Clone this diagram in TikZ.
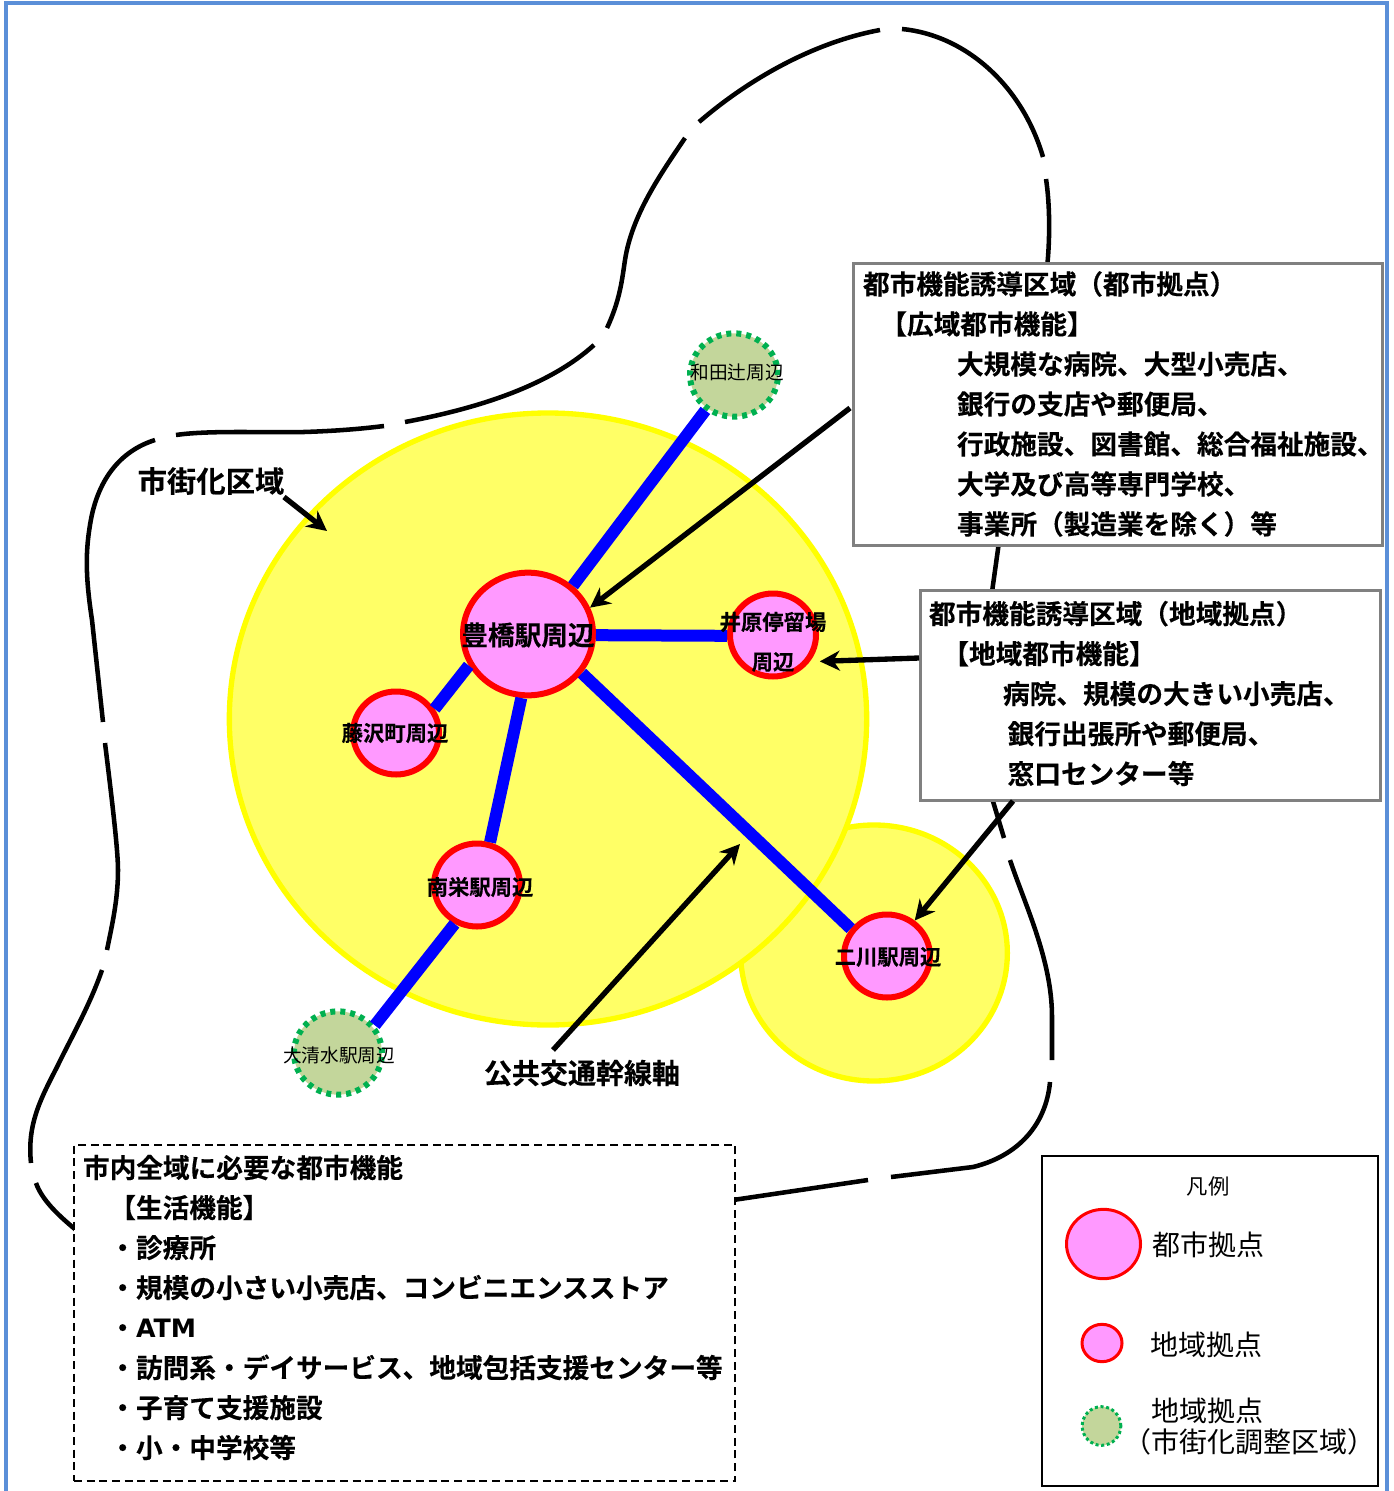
\documentclass[tikz,border=0pt]{standalone}
\usepackage{fontspec}
\setmainfont{Noto Sans CJK JP}[BoldFont=* Bold,BoldFeatures={FakeBold=0.25}]
\newfontfamily\atmfont{DejaVu Sans}
\usetikzlibrary{shapes.geometric,arrows.meta}
\definecolor{framecol}{HTML}{5B8FD8}
\definecolor{arealine}{HTML}{FFFF00}
\definecolor{areafill}{HTML}{FFFF66}
\definecolor{hubfill}{HTML}{FF99FF}
\definecolor{outerfill}{HTML}{C3D69B}
\definecolor{outerline}{HTML}{00B050}
\tikzset{
	boundary/.style={line width=3.4pt},
	areacircle/.style={ellipse,draw=arealine,fill=areafill,line width=4pt,inner sep=0pt},
	hubbig/.style={ellipse,draw=red,fill=hubfill,line width=4.5pt,inner sep=0pt,minimum width=97.5pt,minimum height=92pt},
	hubsmall/.style={ellipse,draw=red,fill=hubfill,line width=4.5pt,inner sep=0pt,minimum width=64.5pt,minimum height=62.25pt},
	hubouter/.style={ellipse,draw=outerline,fill=outerfill,line width=4.5pt,dash pattern=on 3.75pt off 3.75pt,inner sep=0pt,minimum width=66pt,minimum height=62.5pt},
	trunk/.style={blue,line width=9pt},
	pointer/.style={line width=4pt,-{Stealth[length=15pt,width=15pt]}},
	infobox/.style={rectangle,draw=gray,fill=white,line width=2.25pt,anchor=north west,outer sep=0pt,inner xsep=6.75pt,inner ysep=0pt,align=left,font=\fontsize{20}{30}\selectfont\bfseries},
	citylabel/.style={font=\fontsize{16}{20}\selectfont\bfseries,inner sep=0pt},
	outerlabel/.style={font=\fontsize{14}{18}\selectfont,inner sep=0pt},
	keylabel/.style={font=\fontsize{21}{25}\selectfont,inner sep=0pt},
}
\begin{document}
\begin{tikzpicture}[x=0.75pt,y=0.75pt,yscale=-1,xscale=1]
	\useasboundingbox (0,0) rectangle (1394,1491);
	\draw [framecol,line width=3pt] (6,1500) -- (6,3.5) -- (1387,3.5) -- (1387,1500);

	% city boundary, one piece between each gap
	\draw [boundary] (155,440) .. controls (120,451) and (97,480) .. (90,525) .. controls (85,555) and (86,580) .. (92,620) -- (103,722);
	\draw [boundary] (105,743) .. controls (112,800) and (118,850) .. (118,870) .. controls (118,900) and (112,925) .. (107,950);
	\draw [boundary] (102,970) .. controls (90,1005) and (70,1040) .. (57,1067) .. controls (40,1100) and (27,1125) .. (31,1163);
	\draw [boundary] (36,1183) .. controls (42,1200) and (58,1215) .. (76,1230);
	\draw [boundary] (176,435) .. controls (210,430) and (270,433) .. (304,432) .. controls (335,431) and (360,429) .. (384,426);
	\draw [boundary] (405,422) .. controls (480,408) and (550,385) .. (594,345);
	\draw [boundary] (607,328) .. controls (620,300) and (622,280) .. (625,260) .. controls (632,215) and (660,175) .. (685,138);
	\draw [boundary] (699,122) .. controls (750,78) and (815,42) .. (880,30);
	\draw [boundary] (902,29) .. controls (965,35) and (1022,85) .. (1043,157);
	\draw [boundary] (1046,179) .. controls (1050,205) and (1050,240) .. (1047,268);
	\draw [boundary] (999,542) -- (992,592);
	\draw [boundary] (992,798) -- (1004,838);
	\draw [boundary] (1010,860) .. controls (1025,905) and (1052,960) .. (1052,1017) -- (1052,1060);
	\draw [boundary] (1050,1082) .. controls (1046,1125) and (1018,1156) .. (973,1167) -- (891,1177);
	\draw [boundary] (868,1180) -- (733,1200);

	% urbanised areas
	\node [areacircle,minimum width=200pt,minimum height=192pt] (areaeast) at (874,953) {};
	\node [areacircle,minimum width=478pt,minimum height=459pt] (areamain) at (548,719) {};

	% hubs
	\node [hubbig] (toyohashi) at (528,634) {};
	\node [hubsmall] (ihara) at (773,635) {};
	\node [hubsmall] (fujisawa) at (396,733) {};
	\node [hubsmall] (nansaka) at (477,885) {};
	\node [hubsmall] (futagawa) at (887,956) {};
	\node [hubouter] (wadatsuji) at (734,375) {};
	\node [hubouter] (oshimizu) at (338,1053) {};

	\draw [trunk] (toyohashi.47) -- (wadatsuji.231);
	\draw [trunk] (toyohashi.-1.5) -- (ihara.181);
	\draw [trunk] (toyohashi.208) -- (fujisawa.32);
	\draw [trunk] (toyohashi.264) -- (nansaka.73);
	\draw [trunk] (nansaka.240) -- (oshimizu.37);
	\draw [trunk] (toyohashi.-36) -- (futagawa.143);

	\node [citylabel,font=\fontsize{20}{24}\selectfont\bfseries] (toyohashiL) at (528,635) {豊橋駅周辺};
	\node [citylabel] (iharaL) at (773,622) {井原停留場};
	\node [citylabel] (iharaLb) at (773,662) {周辺};
	\node [citylabel] (fujisawaL) at (395,733) {藤沢町周辺};
	\node [citylabel] (nansakaL) at (480,887) {南栄駅周辺};
	\node [citylabel] (futagawaL) at (888,957) {二川駅周辺};
	\node [outerlabel] (wadatsujiL) at (737,372) {和田辻周辺};
	\node [outerlabel] (oshimizuL) at (339,1055) {大清水駅周辺};

	% text boxes
	\node [infobox,inner xsep=7.5pt,text width=381.75pt,minimum height=211.5pt] (boxurban) at (853,263) {都市機能誘導区域（都市拠点）\\
		\hspace*{13pt}【広域都市機能】\\
		\hspace*{70.5pt}大規模な病院、大型小売店、\\
		\hspace*{70.5pt}銀行の支店や郵便局、\\
		\hspace*{70.5pt}行政施設、図書館、総合福祉施設、\\
		\hspace*{70.5pt}大学及び高等専門学校、\\
		\hspace*{70.5pt}事業所（製造業を除く）等};
	\node [infobox,text width=331.5pt,minimum height=157.5pt] (boxlocal) at (920,590) {都市機能誘導区域（地域拠点）\\
		\hspace*{10pt}【地域都市機能】\\
		\hspace*{55.5pt}病院、規模の大きい小売店、\\
		\hspace*{59pt}銀行出張所や郵便局、\\
		\hspace*{59pt}窓口センター等\\[-26pt]\mbox{}};
	\node [infobox,draw=black,line width=1.5pt,dash pattern=on 6pt off 3.5pt,text width=482.5pt,minimum height=252pt] (boxall) at (74,1145) {市内全域に必要な都市機能\\
		\hspace*{19.75pt}【生活機能】\\
		\hspace*{19.75pt}・診療所\\
		\hspace*{19.75pt}・規模の小さい小売店、コンビニエンスストア\\
		\hspace*{19.75pt}・{\atmfont\fontsize{19}{30}\selectfont ATM}\\
		\hspace*{19.75pt}・訪問系・デイサービス、地域包括支援センター等\\
		\hspace*{19.75pt}・子育て支援施設\\
		\hspace*{19.75pt}・小・中学校等\\[-20pt]\mbox{}};

	\node [font=\fontsize{22}{26}\selectfont\bfseries,inner sep=0pt] (labelarea) at (211,481) {市街化区域};
	\node [font=\fontsize{21}{25}\selectfont\bfseries,inner sep=0pt] (labeltrunk) at (582,1073) {公共交通幹線軸};

	\coordinate (areatip) at (327,531);
	\coordinate (areatail) at (284,497);
	\coordinate (trunktip) at (740,844);
	\coordinate (trunktail) at (553,1050);
	\coordinate (urbantail) at (850,408);
	\coordinate (localtail) at (919,658);
	\coordinate (localtailb) at (1013,801);
	\draw [pointer] (areatail) -- (areatip);
	\draw [pointer] (trunktail) -- (trunktip);
	\draw [pointer] (urbantail) -- (toyohashi.23);
	\draw [pointer,shorten >=7.5pt] (localtail) -- (ihara.-36);
	\draw [pointer] (localtailb) -- (futagawa.52);

	% legend
	\node [rectangle,draw=black,fill=white,line width=1.5pt,anchor=north west,outer sep=0pt,inner sep=0pt,minimum width=252pt,minimum height=247.5pt] (legendbox) at (1042,1156) {};
	\node [font=\fontsize{16}{20}\selectfont,inner sep=0pt] (legendtitle) at (1208,1186) {凡例};
	\node [ellipse,draw=red,fill=hubfill,line width=2.25pt,inner sep=0pt,minimum width=55.5pt,minimum height=52pt] (keybig) at (1103.5,1244) {};
	\node [ellipse,draw=red,fill=hubfill,line width=2.25pt,inner sep=0pt,minimum width=30pt,minimum height=28pt] (keysmall) at (1102,1343) {};
	\node [ellipse,draw=outerline,fill=outerfill,line width=2.25pt,dash pattern=on 2.25pt off 2pt,inner sep=0pt,minimum width=29pt,minimum height=29pt] (keyouter) at (1101.5,1426) {};
	\node [keylabel] (keybigL) at (1208,1245) {都市拠点};
	\node [keylabel] (keysmallL) at (1206,1345) {地域拠点};
	\node [keylabel] (keyouterL) at (1207,1411) {地域拠点};
	\node [keylabel] (keyouterLb) at (1249,1442) {（市街化調整区域）};
\end{tikzpicture}
\end{document}
